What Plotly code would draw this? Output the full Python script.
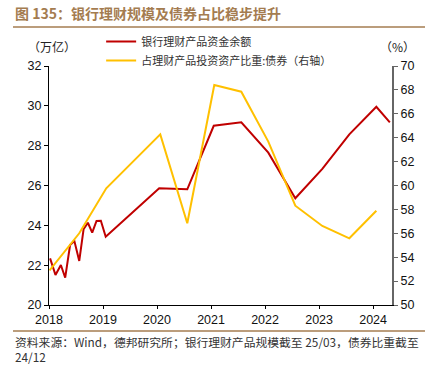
import plotly.graph_objects as go

# Data (decimal-year positions)
red_x = [2018.02, 2018.12, 2018.22, 2018.30, 2018.39, 2018.47, 2018.56, 2018.64,
         2018.72, 2018.80, 2018.88, 2018.96, 2019.05, 2020.04, 2020.56, 2021.05,
         2021.56, 2022.06, 2022.56, 2023.06, 2023.56, 2024.06, 2024.31]
red_y = [22.34, 21.51, 22.01, 21.37, 23.01, 23.21, 22.21, 23.80, 24.13, 23.63,
         24.22, 24.23, 23.43, 25.86, 25.81, 29.00, 29.17, 27.65, 25.36, 26.83,
         28.57, 29.95, 29.17]
yel_x = [2018.01, 2018.56, 2019.06, 2020.06, 2020.56, 2021.06, 2021.56, 2022.06,
         2022.56, 2023.06, 2023.56, 2024.06]
yel_y = [52.9, 56.0, 59.77, 64.28, 56.84, 68.41, 67.85, 63.67, 58.31, 56.61,
         55.58, 57.89]
year_ticks = [2018, 2019, 2020, 2021, 2022, 2023, 2024]
year_labels = ["2018", "2019", "2020", "2021", "2022", "2023", "2024"]
red_name = "银行理财产品资金余额"
yel_name = "占理财产品投资资产比重:债券（右轴）"

CJK = "Noto Sans CJK SC"
NUM = "Liberation Sans, Arial, sans-serif"
TAN = "#a47c50"

fig = go.Figure()
fig.add_trace(go.Scatter(x=red_x, y=red_y, mode="lines", name=red_name,
                         line=dict(color="#C00000", width=2)))
fig.add_trace(go.Scatter(x=yel_x, y=yel_y, mode="lines", name=yel_name,
                         line=dict(color="#FFC000", width=2), yaxis="y2"))

fig.update_layout(
    width=433, height=367,
    margin=dict(l=49, r=41, t=66, b=62, autoexpand=False),
    paper_bgcolor="white", plot_bgcolor="white",
    showlegend=True,
    legend=dict(x=0.152, y=1.163, xanchor="left", yanchor="top",
                font=dict(family=CJK, size=11, color="#333"),
                bgcolor="rgba(0,0,0,0)", tracegroupgap=0, itemwidth=30),
    xaxis=dict(range=[2018, 2024.35], tickvals=year_ticks, ticktext=year_labels,
               showgrid=False, zeroline=False, showline=True, linecolor="black",
               linewidth=1, ticks="outside", ticklen=3, tickcolor="black",
               tickfont=dict(family=NUM, size=12.5, color="#111")),
    yaxis=dict(range=[20, 32], dtick=2, showgrid=False, zeroline=False,
               showline=True, linecolor="black", linewidth=1, ticks="outside",
               ticklen=4, tickcolor="black",
               tickfont=dict(family=NUM, size=12.5, color="#111")),
    yaxis2=dict(range=[50, 70], dtick=2, overlaying="y", side="right",
                showgrid=False, zeroline=False, showline=True, linecolor="#666",
                linewidth=2, ticks="outside", ticklen=4, tickcolor="#666",
                tickfont=dict(family=NUM, size=12.5, color="#111")),
)

fig.add_annotation(text="<b>图 135：银行理财规模及债券占比稳步提升</b>", xref="paper", yref="paper",
                   x=(13-49)/343, y=(305-13)/239, xanchor="left", yanchor="middle",
                   showarrow=False, font=dict(family=CJK, size=14, color=TAN))
fig.add_annotation(text="（万亿）", xref="paper", yref="paper",
                   x=(52-49)/343, y=(305-46)/239, xanchor="center", yanchor="middle",
                   showarrow=False, font=dict(family=CJK, size=12, color="#222"))
fig.add_annotation(text="（%）", xref="paper", yref="paper",
                   x=(397-49)/343, y=(305-46)/239, xanchor="center", yanchor="middle",
                   showarrow=False, font=dict(family=CJK, size=12, color="#222"))
fig.add_annotation(text="资料来源：Wind，德邦研究所；银行理财产品规模截至 25/03，债券比重截至<br>24/12",
                   xref="paper", yref="paper", x=(13-49)/343, y=(305-348.5)/239,
                   xanchor="left", yanchor="middle", align="left", showarrow=False,
                   font=dict(family=CJK, size=11.8, color="#333"))

fig.add_shape(type="line", xref="paper", yref="paper", x0=(13-49)/343, x1=(425-49)/343,
              y0=(305-27)/239, y1=(305-27)/239, line=dict(color=TAN, width=1.5))
fig.add_shape(type="line", xref="paper", yref="paper", x0=(13-49)/343, x1=(425-49)/343,
              y0=(305-331)/239, y1=(305-331)/239, line=dict(color=TAN, width=1.5))

fig.write_html("out.html", config={"displayModeBar": False},
               post_script="document.body.style.margin='0';document.body.style.overflow='hidden';")
